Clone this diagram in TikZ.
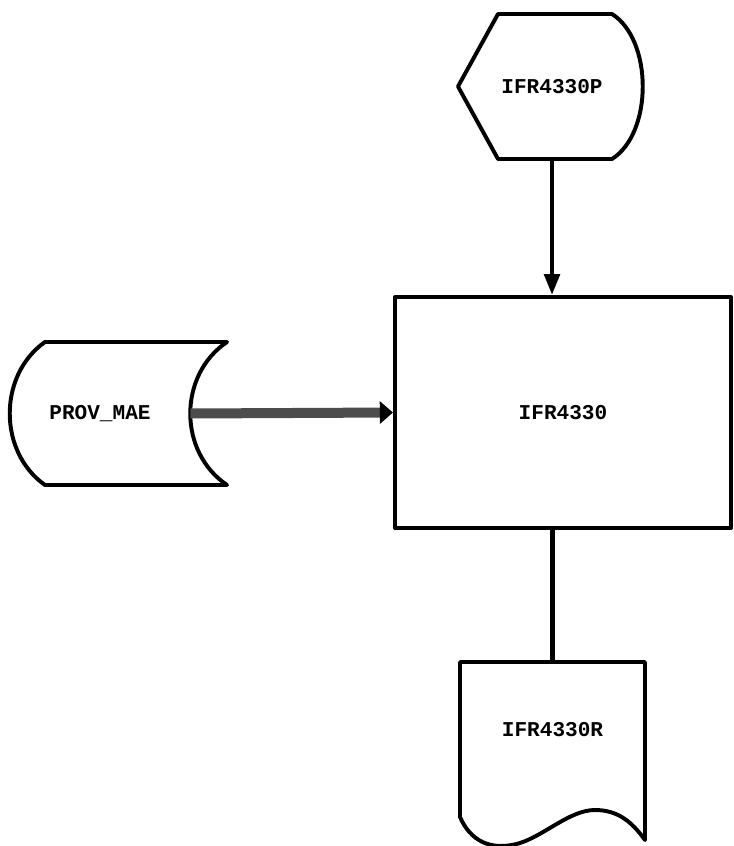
\documentclass[tikz,border=0pt]{standalone}
\usepackage{fontspec}
\newfontfamily\flowfont{Liberation Mono}
\usepackage{tikz}
\usetikzlibrary{arrows.meta}

\begin{document}
\begin{tikzpicture}[x=0.025cm, y=-0.025cm]
    % Styles
    \tikzstyle{shapeline} = [line width=2.8pt, draw=black, line join=round]
    \tikzstyle{label} = [font=\flowfont\bfseries\fontsize{15}{18}\selectfont, inner sep=0pt]
    \tikzstyle{process} = [rectangle, shapeline, minimum width=8.4cm, minimum height=5.775cm, label]
    \tikzstyle{arrow} = [line width=3.2pt, -{Triangle[length=0.52cm, width=0.38cm]}]
    \tikzstyle{feed} = [line width=0.25cm, black!70, -{Triangle[length=0.33cm, width=0.55cm, color=black]}]
    \tikzstyle{link} = [line width=3.2pt]

    \useasboundingbox (0,0) rectangle (733,846);

    % Nodes at the places of the scan
    \node (disp) [label, minimum width=4.7cm, minimum height=3.625cm] at (552,86.5) {IFR4330P};
    \node (prog) [process] at (563,412.5) {IFR4330};
    \node (store) [label, minimum width=4.5cm, minimum height=3.575cm] at (100,413.5) {PROV\_MAE};
    \node (doc) [label, minimum width=4.625cm, minimum height=3.4cm] at (552.5,730) {IFR4330R};

    % Outlines
    \draw [shapeline] (458,86.5) -- (498,14) -- (612,14)
        .. controls (653,40) and (653,133) .. (612,159) -- (498,159) -- cycle;
    \draw [shapeline] (45,342) -- (227,342)
        .. controls (178,375) and (178,452) .. (227,485) -- (45,485)
        .. controls (-2,452) and (-2,375) .. cycle;
    \draw [shapeline] (460,662) -- (645,662) -- (645,840)
        .. controls (632,822) and (618,810) .. (595,810)
        .. controls (570,810) and (545,835) .. (520,843)
        .. controls (490,852) and (470,840) .. (460,817) -- cycle;

    % Arrows
    \draw [arrow] (disp.south) -- (disp.south |- prog.north);
    \draw [feed] (store.east) -- (prog.west);
    \draw [link] (prog.south -| doc.north) -- (doc.north);

\end{tikzpicture}
\end{document}
